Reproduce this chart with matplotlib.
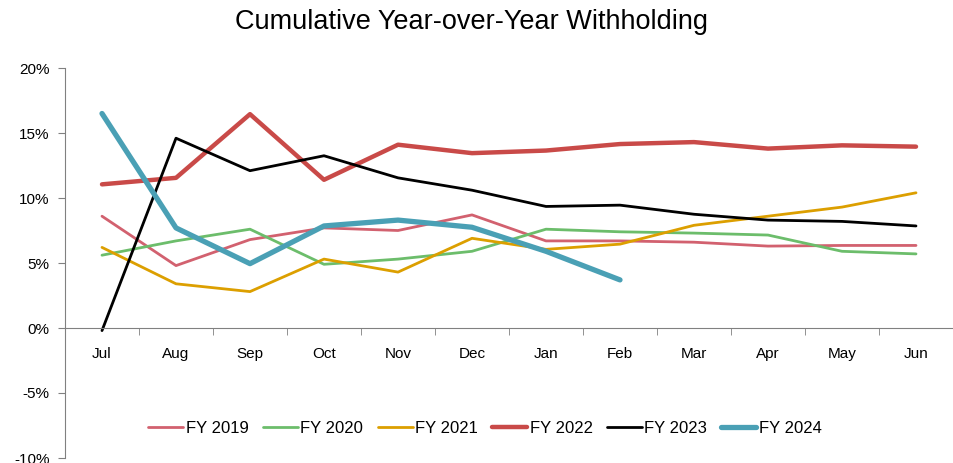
import numpy as np
import matplotlib.pyplot as plt
from matplotlib.ticker import FixedLocator, FuncFormatter

plt.rcParams['font.family'] = ['Liberation Sans', 'DejaVu Sans']

months = ['Jul', 'Aug', 'Sep', 'Oct', 'Nov', 'Dec', 'Jan', 'Feb', 'Mar', 'Apr', 'May', 'Jun']

fy2019 = [8.6, 4.8, 6.8, 7.7, 7.5, 8.7, 6.7, 6.7, 6.6, 6.3, 6.35, 6.35]
fy2020 = [5.6, 6.7, 7.6, 4.9, 5.3, 5.9, 7.6, 7.4, 7.3, 7.15, 5.9, 5.7]
fy2021 = [6.2, 3.4, 2.8, 5.3, 4.3, 6.9, 6.05, 6.45, 7.9, 8.6, 9.3, 10.4]
fy2022 = [11.05, 11.55, 16.45, 11.4, 14.1, 13.45, 13.65, 14.15, 14.3, 13.8, 14.05, 13.95]
fy2023 = [-0.2, 14.6, 12.1, 13.25, 11.55, 10.6, 9.35, 9.45, 8.75, 8.3, 8.2, 7.85]
fy2024 = [16.5, 7.7, 4.95, 7.85, 8.3, 7.75, 5.9, 3.7]

series = [
    ('FY 2019', fy2019, '#d2616f', 2.0),
    ('FY 2020', fy2020, '#6cbd6b', 2.0),
    ('FY 2021', fy2021, '#dc9f00', 2.0),
    ('FY 2022', fy2022, '#c94a48', 3.2),
    ('FY 2023', fy2023, '#000000', 2.0),
    ('FY 2024', fy2024, '#4aa0b5', 3.8),
]

fig = plt.figure(figsize=(9.54, 4.63), dpi=100)
ax = fig.add_axes([65 / 954, 5 / 463, 888 / 954, 390 / 463])

x = np.arange(len(months))
for name, vals, col, lw in series:
    ax.plot(x[:len(vals)], vals, color=col, lw=lw, label=name, solid_capstyle='round')

ax.set_xlim(-0.5, 11.5)
ax.set_ylim(-10, 20)
ax.set_yticks(np.arange(-10, 21, 5))
ax.yaxis.set_major_formatter(FuncFormatter(lambda v, p: f'{v:.0f}%'))

ax.set_xticks(x)
ax.set_xticklabels(months)
ax.xaxis.set_minor_locator(FixedLocator(np.arange(-0.5, 12, 1)))
ax.tick_params(axis='x', which='major', length=0, pad=14, labelsize=11)
ax.tick_params(axis='x', which='minor', length=5, color='#808080')
ax.tick_params(axis='y', length=5, color='#808080', labelsize=11, pad=6)

for s in ['top', 'right']:
    ax.spines[s].set_visible(False)
ax.spines['bottom'].set_position(('data', 0))
ax.spines['bottom'].set_color('#808080')
ax.spines['left'].set_color('#808080')

fig.text(472 / 954, 0.952, 'Cumulative Year-over-Year Withholding', fontsize=19.5,
         ha='center', va='center')

ax.legend(loc='center', bbox_to_anchor=(0.473, 0.076), ncol=6, frameon=False,
          fontsize=12, handlelength=2.1, handletextpad=0.15, columnspacing=0.85)

fig.savefig('out.png', dpi=100)
